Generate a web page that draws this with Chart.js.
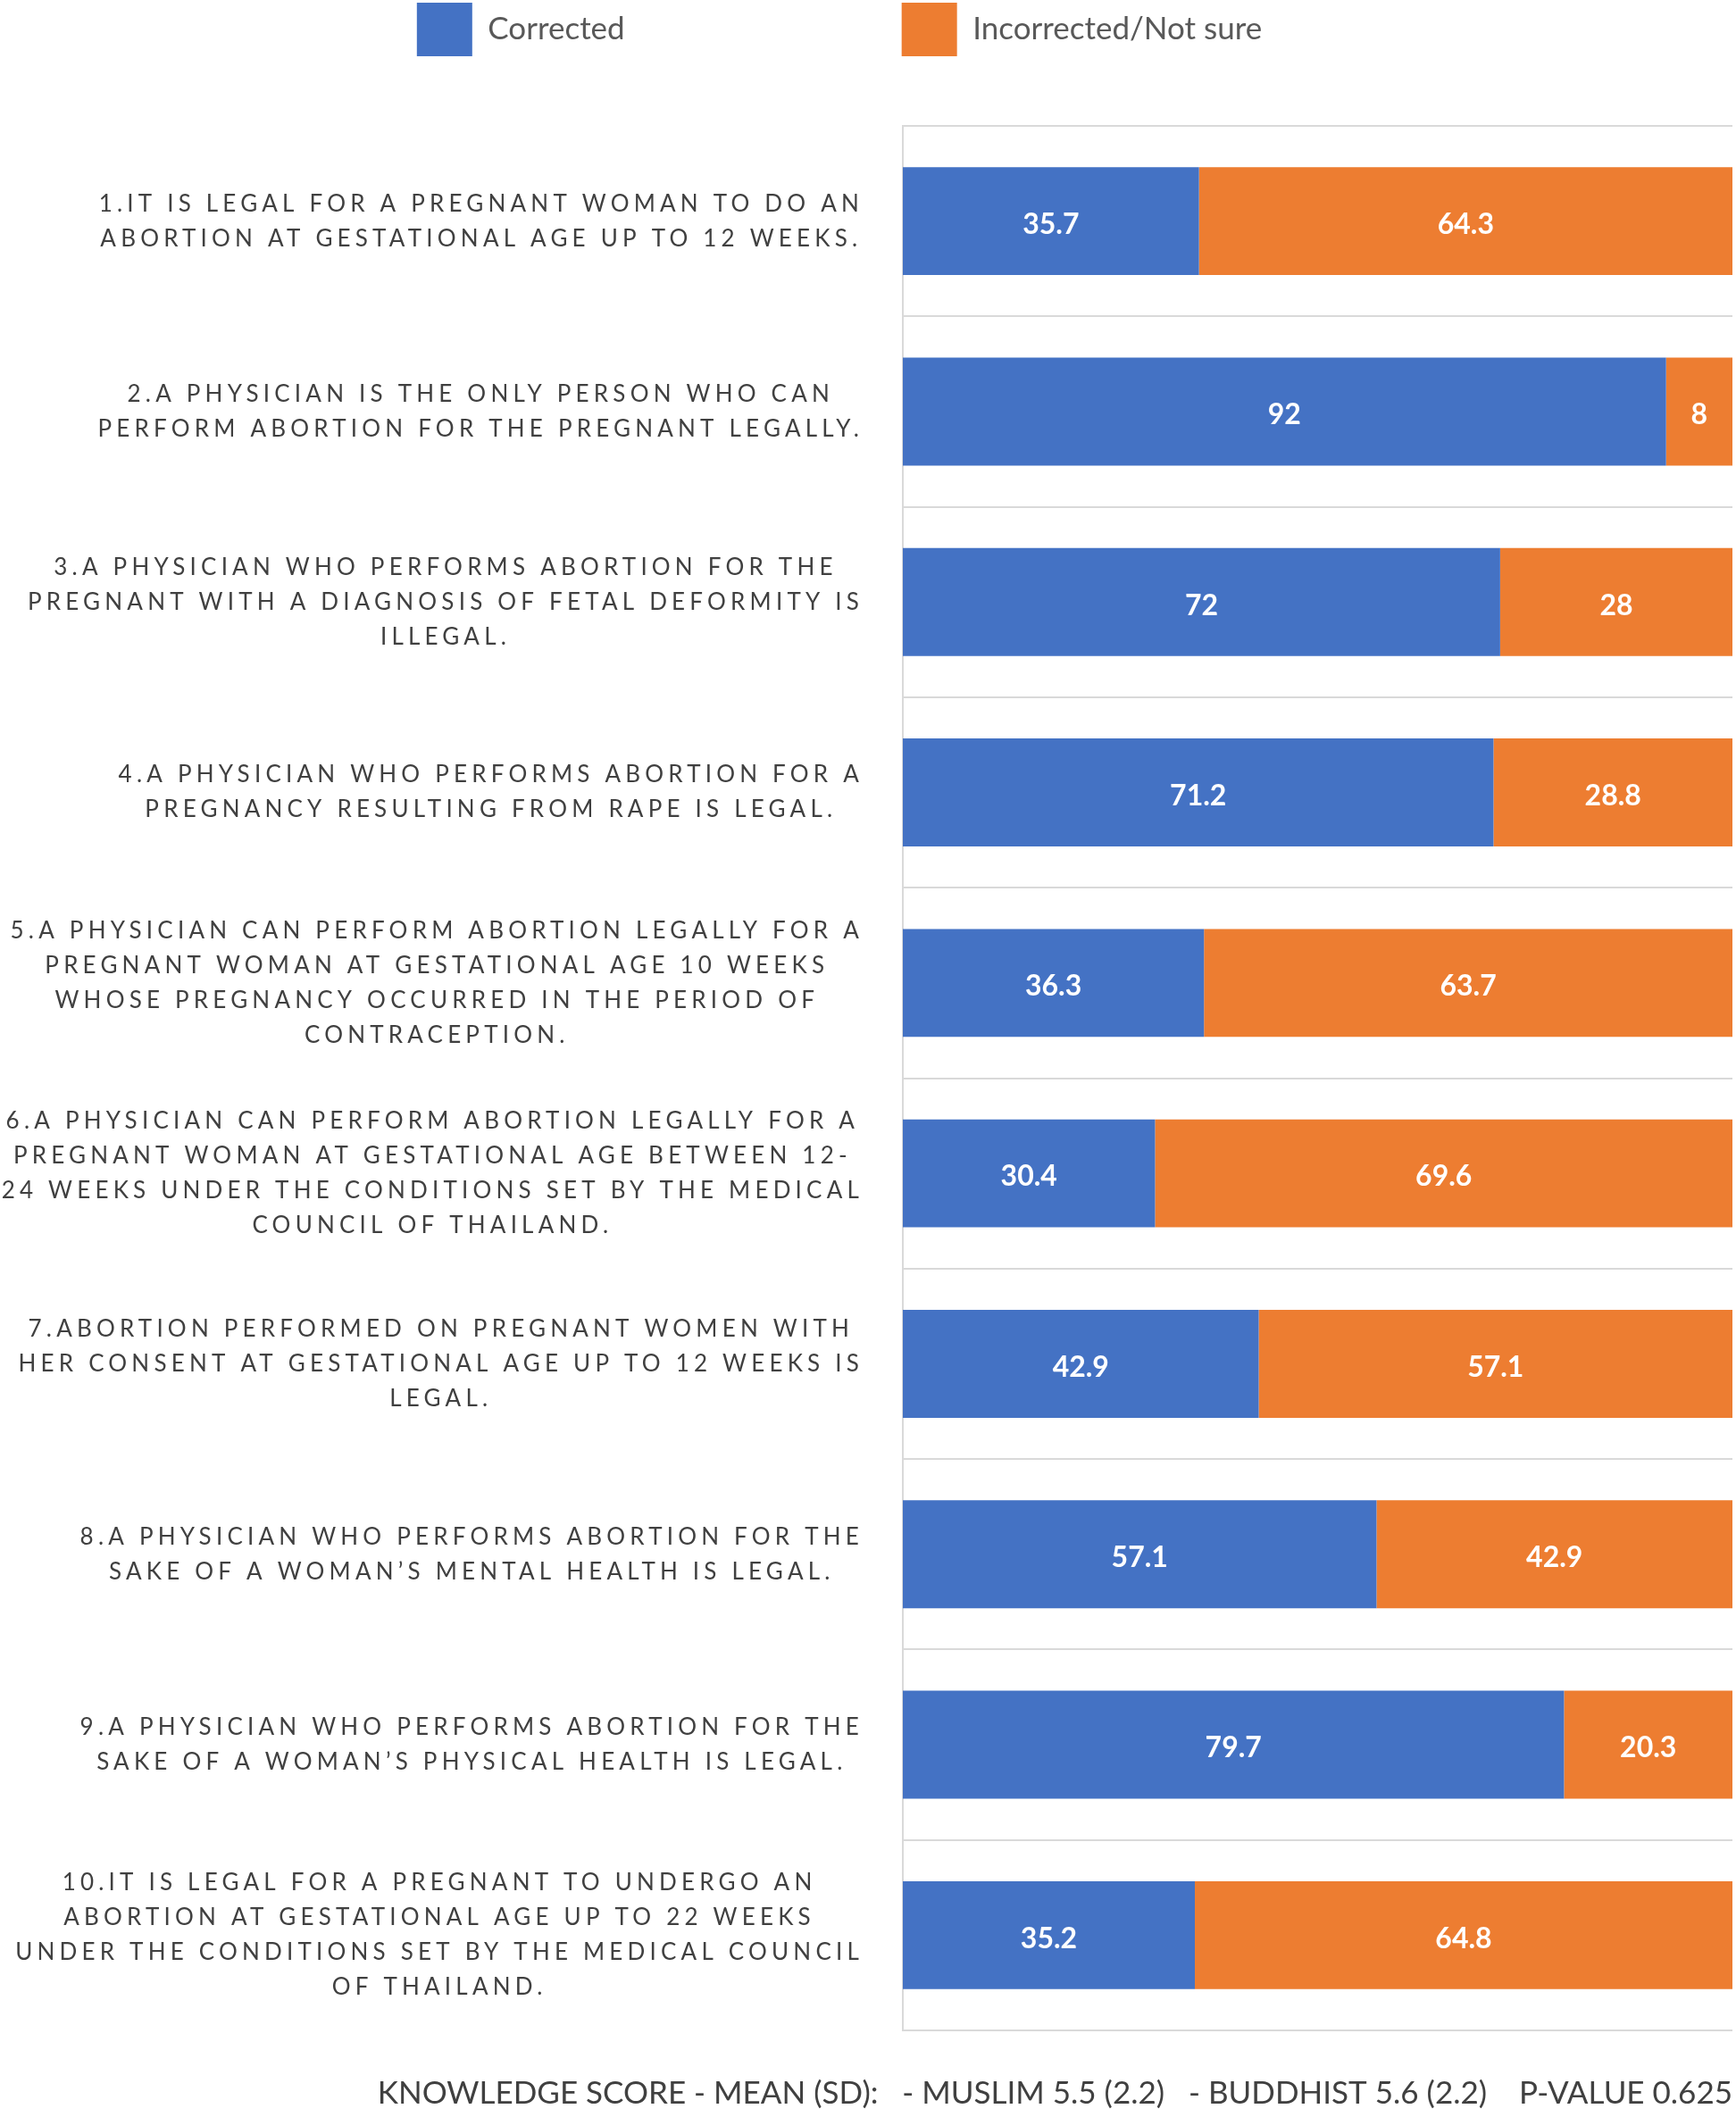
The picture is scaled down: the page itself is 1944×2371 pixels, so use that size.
<!DOCTYPE html>
<html>
<head>
<meta charset="utf-8">
<script src="https://cdn.jsdelivr.net/npm/chart.js@4"></script>
<style>
  html, body { margin: 0; padding: 0; background: #ffffff; }
  #wrap { width: 1944px; height: 2371px; }
</style>
</head>
<body>
<div id="wrap"><canvas id="c" width="1944" height="2371"></canvas></div>
<script>
const categories = [
  ["1.IT IS LEGAL FOR A PREGNANT WOMAN TO DO AN", "ABORTION AT GESTATIONAL AGE UP TO 12 WEEKS."],
  ["2.A PHYSICIAN IS THE ONLY PERSON WHO CAN", "PERFORM ABORTION FOR THE PREGNANT LEGALLY."],
  ["3.A PHYSICIAN WHO PERFORMS ABORTION FOR THE", "PREGNANT WITH A DIAGNOSIS OF FETAL DEFORMITY IS", "ILLEGAL."],
  ["4.A PHYSICIAN WHO PERFORMS ABORTION FOR A", "PREGNANCY RESULTING FROM RAPE IS LEGAL."],
  ["5.A PHYSICIAN CAN PERFORM ABORTION LEGALLY FOR A", "PREGNANT WOMAN AT GESTATIONAL AGE 10 WEEKS", "WHOSE PREGNANCY OCCURRED IN THE PERIOD OF", "CONTRACEPTION."],
  ["6.A PHYSICIAN CAN PERFORM ABORTION LEGALLY FOR A", "PREGNANT WOMAN AT GESTATIONAL AGE BETWEEN 12-", "24 WEEKS UNDER THE CONDITIONS SET BY THE MEDICAL", "COUNCIL OF THAILAND."],
  ["7.ABORTION PERFORMED ON PREGNANT WOMEN WITH", "HER CONSENT AT GESTATIONAL AGE UP TO 12 WEEKS IS", "LEGAL."],
  ["8.A PHYSICIAN WHO PERFORMS ABORTION FOR THE", "SAKE OF A WOMAN\u2019S MENTAL HEALTH IS LEGAL."],
  ["9.A PHYSICIAN WHO PERFORMS ABORTION FOR THE", "SAKE OF A WOMAN\u2019S PHYSICAL HEALTH IS LEGAL."],
  ["10.IT IS LEGAL FOR A PREGNANT TO UNDERGO AN", "ABORTION AT GESTATIONAL AGE UP TO 22 WEEKS", "UNDER THE CONDITIONS SET BY THE MEDICAL COUNCIL", "OF THAILAND."]
];
const correctedValues = [35.7, 92, 72, 71.2, 36.3, 30.4, 42.9, 57.1, 79.7, 35.2];
const incorrectValues = [64.3, 8, 28, 28.8, 63.7, 69.6, 57.1, 42.9, 20.3, 64.8];
const seriesNames = ["Corrected", "Incorrected/Not sure"];
const footnote = "KNOWLEDGE SCORE - MEAN (SD):   - MUSLIM 5.5 (2.2)   - BUDDHIST 5.6 (2.2)    P-VALUE 0.625";

const LABEL_SPACING = '5.2px';
const LEGEND_PAD = 310;
const LEGEND_SHIFT = -30;

const yLabelPlugin = {
  id: 'yLabelLayout',
  beforeDraw(chart) {
    const scale = chart.scales.y;
    const ctx = chart.ctx;
    if (!scale._lsWrapped) {
      const orig = scale.drawLabels;
      scale.drawLabels = function(area) {
        const c = this.ctx;
        const prev = c.letterSpacing;
        c.letterSpacing = LABEL_SPACING;
        orig.call(this, area);
        c.letterSpacing = prev;
      };
      scale._lsWrapped = true;
    }
    const items = scale.getLabelItems();
    ctx.save();
    ctx.letterSpacing = LABEL_SPACING;
    items.forEach(item => {
      ctx.font = item.font.string;
      const lines = [].concat(item.label);
      const w = Math.max(...lines.map(l => ctx.measureText(l).width));
      item.options.textAlign = 'center';
      item.options.translation = [scale.right - scale.options.ticks.padding - w / 2, item.options.translation[1]];
    });
    ctx.restore();
  }
};

const legendPlugin = {
  id: 'legendSpace',
  beforeInit(chart) {
    const lg = chart.legend;
    const origFit = lg.fit;
    lg.fit = function() {
      origFit.call(this);
      this.height = 141;
    };
  },
  afterLayout(chart) {
    const lg = chart.legend;
    lg.top = 3 - LEGEND_PAD;
    lg.left += LEGEND_SHIFT;
    lg.right += LEGEND_SHIFT;
  }
};

const valueLabelPlugin = {
  id: 'valueLabels',
  afterDatasetsDraw(chart) {
    const ctx = chart.ctx;
    ctx.save();
    ctx.font = 'bold 32px Lato';
    ctx.fillStyle = '#ffffff';
    ctx.textAlign = 'center';
    ctx.textBaseline = 'middle';
    chart.data.datasets.forEach((ds, i) => {
      chart.getDatasetMeta(i).data.forEach((bar, j) => {
        const p = bar.getProps(['x', 'y', 'base'], true);
        ctx.fillText(String(ds.data[j]), (p.x + p.base) / 2, p.y + 4);
      });
    });
    ctx.restore();
  }
};

new Chart(document.getElementById('c'), {
  type: 'bar',
  data: {
    labels: categories,
    datasets: [
      { label: seriesNames[0], data: correctedValues, backgroundColor: '#4472C4', borderWidth: 0 },
      { label: seriesNames[1], data: incorrectValues, backgroundColor: '#ED7D31', borderWidth: 0 }
    ]
  },
  options: {
    indexAxis: 'y',
    responsive: false,
    devicePixelRatio: 1,
    animation: false,
    barPercentage: 0.567,
    categoryPercentage: 1,
    layout: { padding: { left: 0, right: 4, top: 0, bottom: 0 } },
    scales: {
      x: { type: 'linear', stacked: true, min: 0, max: 100, display: false },
      y: {
        type: 'category', stacked: true,
        grid: { offset: true, color: '#d9d9d9', lineWidth: 2, drawTicks: false },
        border: { display: true, color: '#d9d9d9', width: 2 },
        ticks: { color: '#404040', font: { family: 'Lato', size: 26, lineHeight: 1.5 }, padding: 44, autoSkip: false },
        afterFit(scale) { scale.width = 1011; }
      }
    },
    plugins: {
      tooltip: { enabled: false },
      legend: {
        position: 'top', align: 'center',
        labels: { boxWidth: 62, boxHeight: 60, padding: LEGEND_PAD, color: '#595959', font: { family: 'Lato', size: 35 } }
      },
      title: {
        display: true, position: 'bottom', align: 'end', text: footnote,
        color: '#404040', font: { family: 'Lato', size: 35, weight: 'normal', lineHeight: 1.2 },
        padding: { top: 50, bottom: 5 }
      }
    }
  },
  plugins: [yLabelPlugin, legendPlugin, valueLabelPlugin]
});
</script>
</body>
</html>
